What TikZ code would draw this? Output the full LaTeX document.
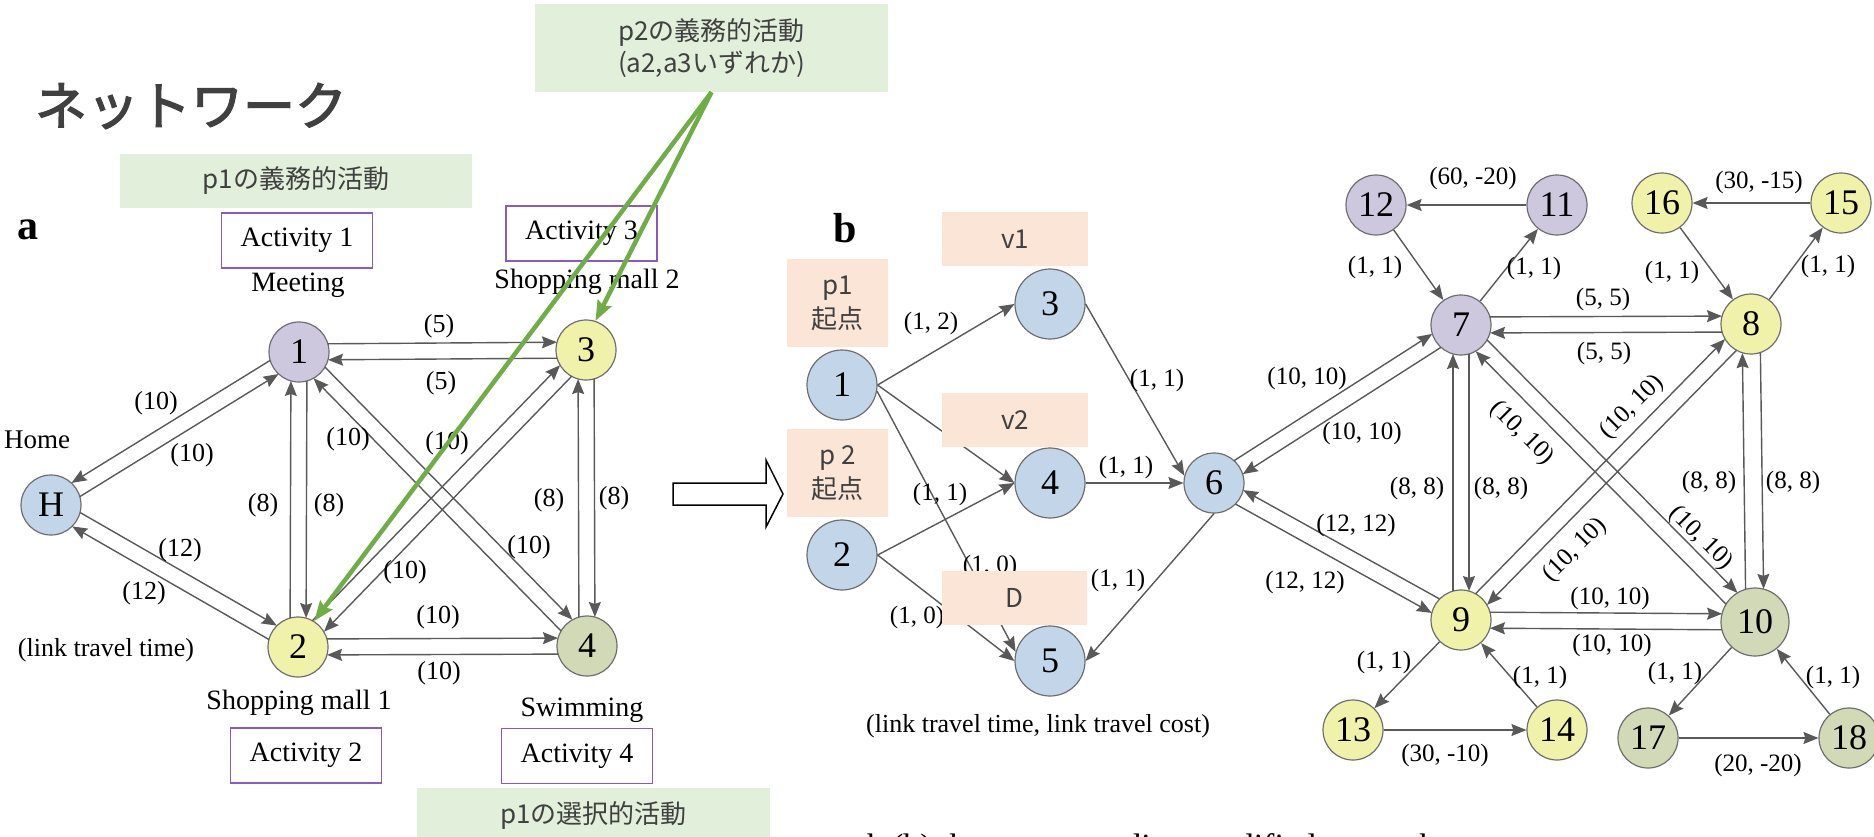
\documentclass[tikz,border=0pt]{standalone}
\usepackage{fontspec}
\setmainfont{Liberation Serif}
\newfontfamily\cjk{Noto Sans CJK JP}
\newfontfamily\cjktitle[FakeBold=2.5]{Noto Sans CJK JP}
\usetikzlibrary{arrows.meta,calc}

\definecolor{edgegray}{HTML}{595959}
\definecolor{rimgray}{HTML}{6E6E6E}
\definecolor{nblue}{HTML}{C3D5E9}
\definecolor{nlav}{HTML}{CEC8DE}
\definecolor{nyel}{HTML}{F0F2A9}
\definecolor{nsage}{HTML}{D2D9B6}
\definecolor{mint}{HTML}{E2EFDA}
\definecolor{peach}{HTML}{FBE5D6}
\definecolor{boxpurple}{HTML}{8A5AC2}
\definecolor{leaf}{HTML}{70AD47}
\definecolor{ink}{HTML}{404040}

% one of the two parallel links between a pair of nodes:
% #1 from, #2 to, #3 side offset, #4/#5 trim at start/end
\newcommand\twin[5]{%
  \draw[edge,shorten <=#4,shorten >=#5]
    ($(#1.center)!#3!90:(#2.center)$) -- ($(#2.center)!#3!-90:(#1.center)$);}

\begin{document}
\begin{tikzpicture}[x=1pt,y=-1pt,
  nd/.style={circle,draw=rimgray,line width=1.2pt,inner sep=0pt,minimum size=60pt,
             font=\fontsize{36}{36}\selectfont},
  big/.style={minimum size=70pt},
  edge/.style={draw=edgegray,line width=1.4pt,-{Stealth[length=15pt,width=12pt,inset=2pt]}},
  lab/.style={font=\fontsize{26}{28}\selectfont,inner sep=0pt},
  blab/.style={font=\fontsize{25}{27}\selectfont,inner sep=0pt},
  actbox/.style={draw=boxpurple,line width=1.5pt,fill=white,minimum width=151pt,
                 minimum height=55pt,inner sep=0pt,font=\fontsize{28}{30}\selectfont},
  mintbox/.style={fill=mint,inner sep=0pt,text=ink,align=center,
                  font=\cjk\fontsize{26}{32}\selectfont},
  peachbox/.style={fill=peach,inner sep=0pt,text=ink,align=center,
                   font=\cjk\fontsize{26}{34}\selectfont},
  greenarrow/.style={draw=leaf,line width=4.5pt,-{Stealth[length=20pt,width=15pt,inset=3pt]}}
]
\useasboundingbox (0,0) rectangle (1874,836);
\clip (0,0) rectangle (1874,836);

% ---------------- heading and notes ----------------
\node[font=\cjktitle\fontsize{52}{52}\selectfont,text=ink] (ttl) at (191,106) {ネットワーク};
\node[mintbox,minimum width=353pt,minimum height=88pt] (g2) at (711.5,48)
  {p2の義務的活動\\(a2,a3いずれか)};
\node[mintbox,minimum width=352pt,minimum height=54pt] (g1) at (296,181) {p1の義務的活動};

% ---------------- panel a ----------------
\node[font=\bfseries\fontsize{42}{42}\selectfont] (lbla) at (28,230) {a};

\node[nd,fill=nblue] (aH) at (51,505) {H};
\node[nd,fill=nlav]  (a1) at (299,352) {1};
\node[nd,fill=nyel]  (a3) at (586,350) {3};
\node[nd,fill=nyel]  (a2) at (298,647) {2};
\node[nd,fill=nsage] (a4) at (587,646) {4};

\twin{aH}{a1}{-8pt}{29pt}{29pt}
\twin{a1}{aH}{-8pt}{29pt}{29pt}
\twin{aH}{a2}{8pt}{29pt}{29pt}
\twin{a2}{aH}{8pt}{29pt}{29pt}
\twin{a1}{a3}{8pt}{29pt}{29pt}
\twin{a3}{a1}{8pt}{29pt}{29pt}
\twin{a2}{a4}{8pt}{29pt}{29pt}
\twin{a4}{a2}{8pt}{29pt}{29pt}
\twin{a2}{a1}{8pt}{29pt}{29pt}
\twin{a1}{a2}{8pt}{29pt}{29pt}
\twin{a4}{a3}{8pt}{29pt}{29pt}
\twin{a3}{a4}{8pt}{29pt}{29pt}
\twin{a1}{a4}{8pt}{29pt}{29pt}
\twin{a4}{a1}{8pt}{29pt}{29pt}
\twin{a2}{a3}{8pt}{29pt}{29pt}
\twin{a3}{a2}{8pt}{29pt}{29pt}

\node[lab] (lH1a) at (156,403) {(10)};
\node[lab] (lH1b) at (192,455) {(10)};
\node[lab] (lH2a) at (180,550) {(12)};
\node[lab] (lH2b) at (144,593) {(12)};
\node[lab] (l13a) at (439,326) {(5)};
\node[lab] (l13b) at (441,383) {(5)};
\node[lab] (l24a) at (438,617) {(10)};
\node[lab] (l24b) at (439,673) {(10)};
\node[lab] (l12a) at (263,505) {(8)};
\node[lab] (l12b) at (329,505) {(8)};
\node[lab] (l34a) at (549,500) {(8)};
\node[lab] (l34b) at (614,498) {(8)};
\node[lab] (l14a) at (348,439) {(10)};
\node[lab] (l14b) at (529,547) {(10)};
\node[lab] (l32a) at (447,443) {(10)};
\node[lab] (l32b) at (405,572) {(10)};

\node[font=\fontsize{27}{29}\selectfont] (home) at (37,440) {Home};
\node[lab] (ltt) at (106,650) {(link travel time)};
\node[font=\fontsize{28}{30}\selectfont] (meet) at (298,285) {Meeting};
\node[font=\fontsize{28}{30}\selectfont] (sm2) at (587,282) {Shopping mall 2};
\node[font=\fontsize{28}{30}\selectfont] (sm1) at (299,703) {Shopping mall 1};
\node[font=\fontsize{28}{30}\selectfont] (swim) at (582,710) {Swimming};

\node[actbox] (act1) at (297,240.5) {Activity 1};
\node[actbox] (act3) at (581.5,233.5) {Activity 3};
\node[actbox] (act2) at (306,755.5) {Activity 2};
\node[actbox] (act4) at (577,756) {Activity 4};

\node[mintbox,minimum width=353pt,minimum height=70pt,anchor=north] (g3) at (593.5,788)
  {\raisebox{22pt}{p1の選択的活動}};

% hollow arrow between the panels
\draw[line width=1.5pt,fill=white] (673,483) -- (766,483) -- (766,460) -- (783,494)
  -- (766,527) -- (766,505) -- (673,505) -- cycle;

% ---------------- panel b ----------------
\node[font=\bfseries\fontsize{42}{42}\selectfont] (lblb) at (845,228) {b};

\node[nd,big,fill=nblue] (b1) at (842,385) {1};
\node[nd,big,fill=nblue] (b2) at (842,555) {2};
\node[nd,big,fill=nblue] (b3) at (1050,304) {3};
\node[nd,big,fill=nblue] (b4) at (1050,483) {4};
\node[nd,big,fill=nblue] (b5) at (1050,661) {5};
\node[nd,fill=nblue] (b6) at (1214,483) {6};
\node[nd,fill=nlav]  (b7) at (1461,325) {7};
\node[nd,fill=nyel]  (b8) at (1751,324) {8};
\node[nd,fill=nyel]  (b9) at (1461,620) {9};
\node[nd,fill=nsage,minimum size=68pt] (b10) at (1755,622) {10};
\node[nd,fill=nlav]  (b11) at (1557,205) {11};
\node[nd,fill=nlav]  (b12) at (1376,205) {12};
\node[nd,fill=nyel]  (b13) at (1353,730) {13};
\node[nd,fill=nyel]  (b14) at (1557,730) {14};
\node[nd,fill=nyel]  (b15) at (1841,203) {15};
\node[nd,fill=nyel]  (b16) at (1662,203) {16};
\node[nd,fill=nsage] (b17) at (1648,738) {17};
\node[nd,fill=nsage] (b18) at (1849,738) {18};

\draw[edge] (b1.east) -- (b3.west);
\draw[edge] (b1.east) -- (b4.west);
\draw[edge] (b1.-10) -- (b5.165);
\draw[edge] (b2.east) -- (b4.west);
\draw[edge] (b2.east) -- (b5.west);
\draw[edge] (b3.east) -- (b6.166);
\draw[edge] (b4.east) -- (b6.west);
\draw[edge] (b6.south) -- (b5.east);

\twin{b6}{b7}{8pt}{29pt}{29pt}
\twin{b7}{b6}{8pt}{29pt}{29pt}
\twin{b6}{b9}{-8pt}{29pt}{29pt}
\twin{b9}{b6}{-8pt}{29pt}{29pt}
\twin{b7}{b8}{8pt}{29pt}{29pt}
\twin{b8}{b7}{8pt}{29pt}{29pt}
\twin{b9}{b10}{8pt}{29pt}{33pt}
\twin{b10}{b9}{8pt}{33pt}{29pt}
\twin{b9}{b7}{8pt}{29pt}{29pt}
\twin{b7}{b9}{8pt}{29pt}{29pt}
\twin{b10}{b8}{9pt}{33pt}{29pt}
\twin{b8}{b10}{9pt}{29pt}{33pt}
\twin{b7}{b10}{8pt}{29pt}{33pt}
\twin{b10}{b7}{8pt}{33pt}{29pt}
\twin{b9}{b8}{8pt}{29pt}{29pt}
\twin{b8}{b9}{8pt}{29pt}{29pt}

\draw[edge] (b11) -- (b12);
\draw[edge] (b12) -- (b7);
\draw[edge] (b7) -- (b11);
\draw[edge] (b15) -- (b16);
\draw[edge] (b16) -- (b8);
\draw[edge] (b8) -- (b15);
\draw[edge] (b9) -- (b13);
\draw[edge] (b13) -- (b14);
\draw[edge] (b14) -- (b9);
\draw[edge] (b10) -- (b17);
\draw[edge] (b17) -- (b18);
\draw[edge] (b18) -- (b10);

% link labels, panel b
\node[blab] (e13) at (931,323) {(1, 2)};
\node[blab] (e36) at (1157,380) {(1, 1)};
\node[blab] (e24) at (940,494) {(1, 1)};
\node[blab] (e46) at (1126,467) {(1, 1)};
\node[blab] (e15) at (990,566) {(1, 0)};
\node[blab] (e25) at (917,617) {(1, 0)};
\node[blab] (e65) at (1118,580) {(1, 1)};
\node[lab] (ltc) at (1038,726) {(link travel time, link travel cost)};

\node[blab] (e1112) at (1473,178) {(60, -20)};
\node[blab] (e127) at (1375,267) {(1, 1)};
\node[blab] (e711) at (1534,268) {(1, 1)};
\node[blab] (e1516) at (1759,182) {(30, -15)};
\node[blab] (e168) at (1672,272) {(1, 1)};
\node[blab] (e815) at (1828,266) {(1, 1)};
\node[blab] (e78a) at (1603,299) {(5, 5)};
\node[blab] (e78b) at (1604,353) {(5, 5)};
\node[blab] (e67a) at (1307,378) {(10, 10)};
\node[blab] (e67b) at (1362,433) {(10, 10)};
\node[blab,rotate=-45] (e710a) at (1522,433) {(10, 10)};
\node[blab,rotate=45] (e98a) at (1632,407) {(10, 10)};
\node[blab] (e79a) at (1417,488) {(8, 8)};
\node[blab] (e79b) at (1501,488) {(8, 8)};
\node[blab] (e810a) at (1709,482) {(8, 8)};
\node[blab] (e810b) at (1793,482) {(8, 8)};
\node[blab] (e69a) at (1356,525) {(12, 12)};
\node[blab] (e69b) at (1305,582) {(12, 12)};
\node[blab,rotate=45] (e98b) at (1575,550) {(10, 10)};
\node[blab,rotate=-45] (e710b) at (1701,538) {(10, 10)};
\node[blab] (e910a) at (1610,598) {(10, 10)};
\node[blab] (e910b) at (1612,645) {(10, 10)};
\node[blab] (e913) at (1384,662) {(1, 1)};
\node[blab] (e149) at (1540,677) {(1, 1)};
\node[blab] (e1314) at (1445,755) {(30, -10)};
\node[blab] (e1017) at (1675,673) {(1, 1)};
\node[blab] (e1810) at (1833,677) {(1, 1)};
\node[blab] (e1718) at (1758,765) {(20, -20)};

% notes laid over panel b
\node[peachbox,minimum width=146pt,minimum height=54pt] (pv1) at (1015,239) {v1};
\node[peachbox,minimum width=101pt,minimum height=88pt] (pp1) at (837.5,303) {p1\\起点};
\node[peachbox,minimum width=146pt,minimum height=54pt] (pv2) at (1015,420) {v2};
\node[peachbox,minimum width=101pt,minimum height=88pt] (pp2) at (837.5,473) {p 2\\起点};
\node[peachbox,minimum width=145pt,minimum height=54pt] (pD) at (1014.5,598) {D};

% figure caption running off the bottom edge
\node[anchor=base west,inner sep=0pt,font=\fontsize{34}{34}\selectfont] (cap) at (772,857)
  {network (b) the corresponding modified network};

% pointers from the note on p2's fixed activity
\draw[greenarrow] (g2.south) -- (a3.72);
\draw[greenarrow] (g2.south) -- (a2.58);
\end{tikzpicture}
\end{document}
